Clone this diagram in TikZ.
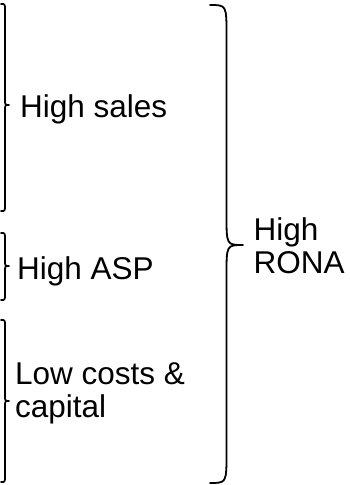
\documentclass[tikz,border=0pt]{standalone}
\usepackage{fontspec}
\setmainfont{Liberation Sans}
% Right-pointing curly brace: #1 = left x, #2 = top y, #3 = bottom y,
% #4 = tip y, #5 = width, #6 = curl radius
\newcommand\curlybrace[6]{%
  \draw[bracestyle]
    (#1,#2) .. controls ({#1+#5/2},#2) .. ({#1+#5/2},{#2+#6})
    -- ({#1+#5/2},{#4-#6})
    .. controls ({#1+#5/2},#4) .. ({#1+#5},#4)
    .. controls ({#1+#5/2},#4) .. ({#1+#5/2},{#4+#6})
    -- ({#1+#5/2},{#3-#6})
    .. controls ({#1+#5/2},#3) .. (#1,#3);
}
\begin{document}
\begin{tikzpicture}[x=1pt,y=-1pt,
  bracestyle/.style={line width=1.8pt, line join=round, line cap=round},
  label/.style={align=left, inner sep=0pt,
    font=\fontsize{31.5}{33}\selectfont}]
  \useasboundingbox (0,0) rectangle (349,485);

  % left braces, one per driver
  \curlybrace{1}{4}{211}{105}{8}{6}
  \curlybrace{1}{233}{300}{266}{8}{6}
  \curlybrace{1}{320}{482}{401}{8}{6}

  % large brace joining the drivers
  \curlybrace{210}{5}{483}{245}{33}{30}

  \node[label, anchor=base west] (sales) at (20,117) {High sales};
  \node[label, anchor=base west] (asp) at (17,279) {High ASP};
  \node[label, anchor=north west] (costs) at (15,362) {Low costs \&\\capital};
  \node[label, anchor=north west] (rona) at (253.5,217.5) {High\\RONA};
\end{tikzpicture}
\end{document}
